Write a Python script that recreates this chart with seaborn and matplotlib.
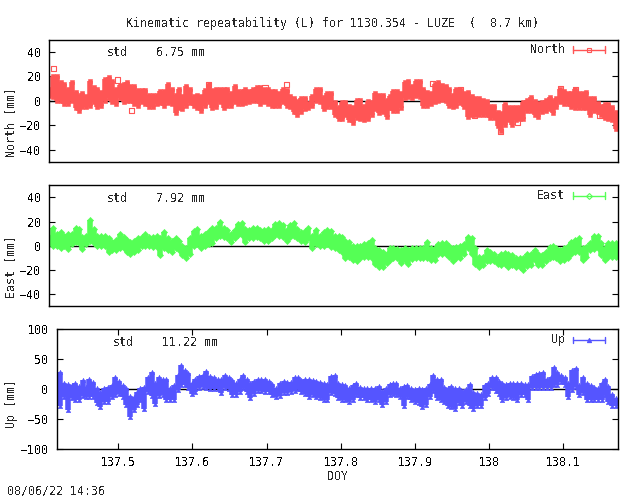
import pandas as pd
import matplotlib
matplotlib.use("Agg")
import matplotlib.pyplot as plt
import seaborn as sns

doy = [137.417, 137.422, 137.427, 137.432, 137.437, 137.442, 137.447, 137.452, 137.456, 137.461,
       137.466, 137.471, 137.476, 137.481, 137.486, 137.491, 137.496, 137.501, 137.506, 137.511,
       137.516, 137.521, 137.525, 137.530, 137.535, 137.540, 137.545, 137.550, 137.555, 137.560,
       137.565, 137.570, 137.575, 137.580, 137.585, 137.590, 137.594, 137.599, 137.604, 137.609,
       137.614, 137.619, 137.624, 137.629, 137.634, 137.639, 137.644, 137.649, 137.654, 137.659,
       137.664, 137.668, 137.673, 137.678, 137.683, 137.688, 137.693, 137.698, 137.703, 137.708,
       137.713, 137.718, 137.723, 137.728, 137.733, 137.738, 137.743, 137.747, 137.752, 137.757,
       137.762, 137.767, 137.772, 137.777, 137.782, 137.787, 137.792, 137.797, 137.802, 137.806,
       137.811, 137.816, 137.821, 137.826, 137.831, 137.836, 137.841, 137.846, 137.851, 137.856,
       137.861, 137.866, 137.871, 137.875, 137.880, 137.885, 137.890, 137.895, 137.900, 137.905,
       137.910, 137.915, 137.920, 137.925, 137.930, 137.935, 137.940, 137.945, 137.949, 137.954,
       137.959, 137.964, 137.969, 137.974, 137.979, 137.984, 137.989, 137.994, 137.999, 138.004,
       138.009, 138.014, 138.018, 138.023, 138.028, 138.033, 138.038, 138.043, 138.048, 138.053,
       138.058, 138.063, 138.068, 138.073, 138.078, 138.083, 138.088, 138.092, 138.097, 138.102,
       138.107, 138.112, 138.117, 138.122, 138.127, 138.132, 138.137, 138.142, 138.147, 138.152,
       138.157, 138.161, 138.166, 138.171]

north_hi = [10, 20, 20, 15, 14, 10, 15, 7, 4, 6,
            4, 16, 11, 10, 7, 18, 19, 16, 10, 13,
            14, 15, 12, 12, 9, 9, 9, 5, 5, 5,
            8, 8, 14, 10, 5, 10, 4, 12, 10, 4,
            5, 4, 9, 14, 9, 10, 10, 10, 10, 6,
            12, 8, 8, 10, 8, 10, 11, 11, 10, 10,
            8, 8, 6, 10, 9, 4, 2, 0, 2, 2,
            -2, 4, 10, 10,
            3, 6, 6, -1, -5, -1, -1, -4, -5, 1,
            1, -4, 0, -1, 6, 5, 5, 1, 4, 8,
            8, 6, 15, 16, 12, 16, 16, 10, 7, 6,
            14, 15, 13, 12, 10, 5, 10, 10, 6, 7,
            4, 2, 2, 1, 0, -4, -4, -9, -10, -3,
            -5, -5, -5, -5, -1, 1, 3, 0, -2, -1,
            1, 3, 0, 2, 10, 8, 6, 6, 10, 6,
            6, 7, 2, 2, -2, -4, -3, -3, -5, -9]
north_lo = [4, 3, 0, 0, -3, -3, 0, -6, -8, -5,
            -5, -4, -1, -5, -4, 0, 2, -1, -3, 2,
            -1, 0, 0, -3, -4, -1, -3, -5, -5, -3,
            -2, -4, -2, -3, -10, -6, -7, -4, -2, -4,
            -6, -8, -4, -1, -6, -5, -1, -6, -4, -4,
            -1, -3, -3, -2, -1, 0, 0, -3, -1, -3,
            -4, -4, -4, -1, -4, -5, -9, -12, -9, -7,
            -6, -4, 0, -1,
            -7, -5, -5, -12, -15, -15, -12, -16, -18, -14,
            -15, -16, -15, -12, -7, -10, -9, -13, -6, -8,
            -8, -6, 2, 3, 2, 4, 3, -4, -4, -3,
            -1, 0, 1, 0, -4, -5, -4, -2, -5, -13,
            -12, -12, -12, -12, -12, -14, -14, -21, -25, -20,
            -16, -20, -16, -15, -15, -8, -8, -12, -13, -9,
            -8, -7, -10, -5, -1, -3, -3, -5, -6, -6,
            -6, -6, -12, -8, -9, -12, -14, -15, -16, -23]

# single samples that stand clear of the north band, drawn as open squares
north_out_doy = [137.423, 137.462, 137.508, 137.526, 137.629, 137.704, 137.733, 137.927, 137.964,
                 137.983, 138.018, 138.040, 138.097, 138.117, 138.150]
north_out_val = [26, -1, 17, -8, 13, 11, 13, 14, 9, -12, -25, -18, 10, 9, -12]

east_hi = [7, 15, 10, 11, 8, 10, 10, 15, 14, 7,
           8, 21, 14, 8, 8, 8, 6, 3, 5, 10,
           7, 5, 3, 4, 6, 7, 10, 7, 7, 8,
           6, 11, 6, 4, 6, 4, 0, -2, 6, 12,
           14, 8, 10, 12, 15, 15, 20, 15, 13, 10,
           13, 18, 19, 14, 13, 15, 15, 13, 13, 14,
           13, 18, 19, 17, 13, 17, 19, 14, 11, 12,
           15, 8, 13, 8,
           11, 13, 12, 8, 8, 7, 4, 3, 0, 0,
           0, 1, 2, 5, -2, -4, -5, -7, -2, -2,
           -3, -4, -2, -4, -2, -2, -2, -2, 3, -2,
           -2, 1, 2, 2, 0, -2, -1, 0, 1, 7,
           6, -2, -9, -9, -4, -5, -7, -9, -7, -6,
           -7, -8, -10, -10, -10, -7, -7, -4, -7, -8,
           -5, -1, 0, -2, -4, -2, 0, 3, 5, 6,
           -2, -1, 2, 8, 8, 2, -2, 2, 2, 2]
east_lo = [2, 0, 0, -2, 0, -3, 1, 3, 2, -3,
           1, 4, 2, 0, 0, 0, -5, -4, -4, -2,
           -2, -5, -7, -5, -4, 0, 0, 0, -1, -1,
           -8, -2, -4, -5, -2, -4, -8, -10, -7, 0,
           1, -2, 0, 1, 2, 6, 8, 7, 6, 3,
           6, 9, 9, 3, 6, 6, 7, 6, 4, 4,
           6, 9, 8, 7, 4, 7, 8, 6, 4, 3,
           6, -2, 1, 0,
           0, 1, -1, -2, -4, -5, -10, -9, -12, -13,
           -10, -9, -9, -10, -15, -18, -18, -14, -12, -10,
           -10, -14, -12, -15, -11, -10, -10, -10, -10, -12,
           -12, -7, -7, -7, -9, -13, -10, -10, -7, -2,
           -7, -15, -18, -16, -13, -13, -13, -15, -16, -15,
           -18, -16, -18, -18, -20, -17, -16, -12, -16, -16,
           -13, -10, -9, -10, -13, -12, -10, -7, -5, -5,
           -12, -9, -4, -3, -2, -8, -12, -9, -9, -9]

up_hi = [10, 29, 10, 9, 7, 10, 6, 16, 4, 17,
         13, 2, -4, 2, 4, 7, 20, 14, 7, 2,
         -11, -13, -4, 2, 4, 21, 29, 10, 20, 18,
         17, 2, 7, 24, 41, 32, 27, 10, 18, 22,
         24, 31, 22, 20, 18, 17, 24, 20, 16, 10,
         18, 24, 18, 10, 14, 17, 18, 17, 14, 9,
         2, 11, 14, 13, 13, 20, 21, 16, 18, 17,
         16, 14, 13,
         11, 9, 22, 24, 10, 9, 7, 2, 7, 10,
         4, 3, 2, 3, 2, 6, -2, 2, 9, 11,
         11, 2, 6, 7, 2, 0, 2, 0, 2, 9,
         24, 18, 17, 4, 2, 6, 2, 2, -2, 0,
         9, -4, -6, -7, 7, 10, 20, 21, 14, 10,
         9, 11, 10, 10, 10, 9, 9, 22, 26, 28,
         29, 18, 21, 38, 29, 24, 21, 10, 32, 35,
         7, 20, 10, 7, 4, 2, 10, 17, 6, -7, -15]
up_lo = [-7, -28, -13, -34, -15, -18, -18, -11, -13, -13,
         -13, -23, -30, -21, -21, -12, -9, -8, -12, -26,
         -46, -34, -26, -18, -33, -4, -11, -24, -11, -9,
         -17, -18, -18, -1, 7, 7, 2, -8, -4, 2,
         4, 2, 0, 0, 0, -6, 2, 0, -9, -9,
         -4, 2, -4, -15, -7, -2, -2, -4, -4, -9,
         -13, -11, -6, -6, -4, -2, 0, -4, -8, -12,
         -9, -13, -15,
         -18, -18, -6, -8, -15, -17, -18, -21, -17, -9,
         -15, -15, -18, -17, -21, -18, -26, -21, -9, -8,
         -9, -13, -28, -13, -18, -21, -23, -29, -26, -13,
         -2, -15, -18, -21, -28, -30, -32, -23, -28, -21,
         -28, -32, -28, -28, -15, -8, 2, -2, -7, -17,
         -15, -13, -15, -17, -9, -9, -17, 2, 2, 2,
         2, 2, 2, 7, 7, 13, 7, -12, -1, 4,
         -9, -6, -17, -17, -17, -17, -17, -9, -21, -28, -28]

panels = ["North", "East", "Up"]
stds = ["6.75", "7.92", "11.22"]
colors = ["#ff5555", "#55ff55", "#5555ff"]
markers = ["s", "D", "^"]
highs = [north_hi, east_hi, up_hi]
lows = [north_lo, east_lo, up_lo]
yticks = [[-40, -20, 0, 20, 40], [-40, -20, 0, 20, 40], [-100, -50, 0, 50, 100]]
ylims = [(-50, 50), (-50, 50), (-100, 100)]
xticks = [137.5, 137.6, 137.7, 137.8, 137.9, 138, 138.1]
xticklabels = ["137.5", "137.6", "137.7", "137.8", "137.9", "138", "138.1"]

W, H = 640, 496
boxes = [(49.3, 39.5, 618, 162), (49.3, 185.3, 618, 306), (56.7, 329.3, 618, 449.3)]
std_x = [107, 107, 113]
std_y = [52, 198, 342]
legend_y = [49.5, 195.5, 339.5]
FS = 8.4

sns.set_theme(style="white")
plt.rcParams["font.family"] = ["DejaVu Sans Mono"]
plt.rcParams["font.size"] = FS
plt.rcParams["text.antialiased"] = False

fig = plt.figure(figsize=(6.4, 4.96), dpi=100)

for i, name in enumerate(panels):
    x0, y0, x1, y1 = boxes[i]
    ax = fig.add_axes([x0 / W, 1 - y1 / H, (x1 - x0) / W, (y1 - y0) / H])

    # every sample is a bar from low to high, with the symbol at both ends
    ax.vlines(doy, lows[i], highs[i], color=colors[i], lw=4, zorder=2)
    df = pd.DataFrame({"doy": doy + doy, "val": highs[i] + lows[i]})
    sns.scatterplot(data=df, x="doy", y="val", ax=ax, marker=markers[i], s=10, color=colors[i],
                    edgecolor=colors[i], linewidth=0.4, zorder=3, legend=False)
    if name == "North":
        out = pd.DataFrame({"doy": north_out_doy, "val": north_out_val})
        sns.scatterplot(data=out, x="doy", y="val", ax=ax, marker="s", s=14, facecolor="none",
                        edgecolor=colors[i], linewidth=0.8, zorder=3, legend=False)

    ax.axhline(0, color="black", lw=1, zorder=1)
    ax.set_xlim(137.417, 138.174)
    ax.set_ylim(*ylims[i])
    ax.set_yticks(yticks[i])
    ax.tick_params(axis="y", direction="in", length=4, width=0.8, left=True, right=True,
                   labelsize=FS, pad=6, colors="black")
    if name == "Up":
        ax.set_xticks(xticks)
        ax.set_xticklabels(xticklabels)
        ax.tick_params(axis="x", direction="in", length=4, width=0.8, bottom=True, top=True,
                       labelsize=FS, pad=5, colors="black")
    else:
        ax.set_xticks([])
    ax.set_xlabel("")
    ax.set_ylabel("")
    for sp in ax.spines.values():
        sp.set_color("black")
        sp.set_linewidth(1)
        sp.set_visible(True)
        sp.set_zorder(5)

    # legend sample
    ly = (y1 - legend_y[i]) / (y1 - y0)
    lx0 = (572.5 - x0) / (x1 - x0)
    lx1 = (605 - x0) / (x1 - x0)
    ax.plot([lx0, lx1], [ly, ly], color=colors[i], lw=1, transform=ax.transAxes, zorder=6)
    for lx in (lx0, lx1):
        ax.plot([lx, lx], [ly - 0.025, ly + 0.025], color=colors[i], lw=1, transform=ax.transAxes, zorder=6)
    ax.plot([(lx0 + lx1) / 2], [ly], marker=markers[i], ms=3, mfc="none" if name != "Up" else colors[i],
            mec=colors[i], mew=0.8, transform=ax.transAxes, zorder=6)
    fig.text(565 / W, 1 - legend_y[i] / H, name, ha="right", va="center")

    fig.text(std_x[i] / W, 1 - std_y[i] / H, "std", ha="left", va="center")
    fig.text((std_x[i] + 49) / W, 1 - std_y[i] / H, stds[i] + " mm", ha="left", va="center")

fig.text(11 / W, 1 - 122 / H, "North [mm]", rotation=90, ha="center", va="center")
fig.text(11 / W, 1 - 266 / H, "East [mm]", rotation=90, ha="center", va="center")
fig.text(11 / W, 1 - 403 / H, "Up [mm]", rotation=90, ha="center", va="center")

fig.text(333 / W, 1 - 23.5 / H, "Kinematic repeatability (L) for 1130.354 - LUZE  (  8.7 km)",
         ha="center", va="center")
fig.text(338 / W, 1 - 476.5 / H, "DOY", ha="center", va="center")
fig.text(7 / W, 1 - 490.5 / H, "08/06/22 14:36", ha="left", va="center")

fig.savefig("out.png", dpi=100)
